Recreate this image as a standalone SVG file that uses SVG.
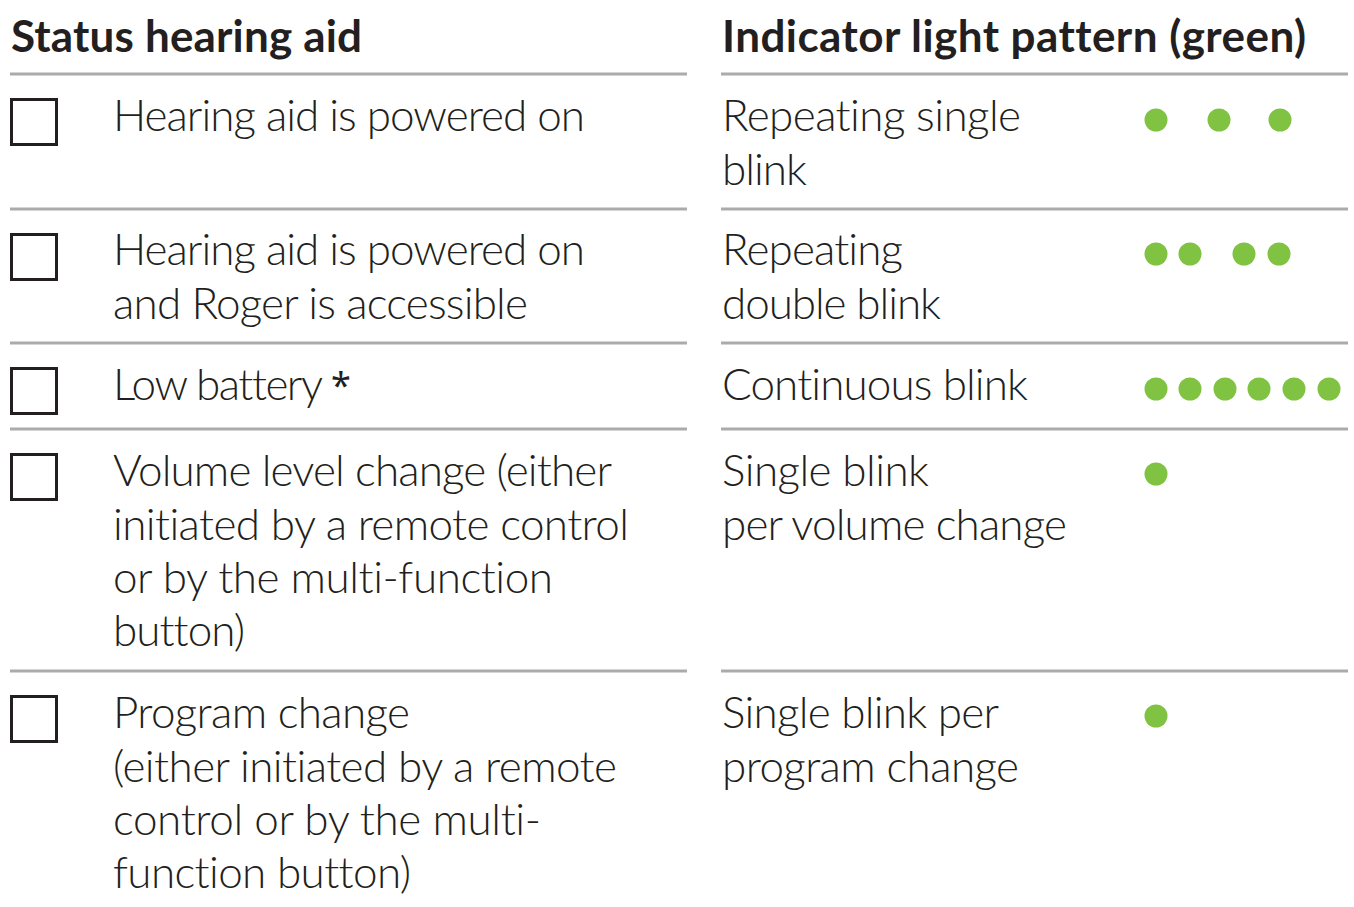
<svg xmlns="http://www.w3.org/2000/svg" width="1354" height="907" viewBox="0 0 1354 907">
<style>
.t{font-family:Lato,"Noto Sans","Liberation Sans",sans-serif;font-size:44px;font-weight:300;fill:#231f20;font-variant-ligatures:none;}
.h{font-weight:bold;}
.ast{font-family:"Noto Sans","Liberation Sans",sans-serif;font-size:36px;fill:#231f20;}
.rule{stroke:#ababab;stroke-width:3;}
.box{fill:none;stroke:#231f20;stroke-width:3;}
.dot{fill:#80c241;}
</style>
<rect width="1354" height="907" fill="#fff"/>
<g id="header">
<text class="t h" x="11" y="52" textLength="351">Status hearing aid</text>
<text class="t h" x="722" y="52" textLength="584">Indicator light pattern (green)</text>
</g>
<g id="rules">
<line class="rule" x1="10" y1="74" x2="687" y2="74"/><line class="rule" x1="721" y1="74" x2="1348" y2="74"/>
<line class="rule" x1="10" y1="209" x2="687" y2="209"/><line class="rule" x1="721" y1="209" x2="1348" y2="209"/>
<line class="rule" x1="10" y1="343" x2="687" y2="343"/><line class="rule" x1="721" y1="343" x2="1348" y2="343"/>
<line class="rule" x1="10" y1="429" x2="687" y2="429"/><line class="rule" x1="721" y1="429" x2="1348" y2="429"/>
<line class="rule" x1="10" y1="671" x2="687" y2="671"/><line class="rule" x1="721" y1="671" x2="1348" y2="671"/>
</g>
<g id="row1">
<rect class="box" x="11.5" y="99.5" width="45" height="45"/>
<text class="t" x="113" y="131" textLength="472">Hearing aid is powered on</text>
<text class="t" x="722" y="131" textLength="299">Repeating single</text>
<text class="t" x="722" y="185" textLength="85">blink</text>
<circle class="dot" cx="1156" cy="120" r="11.5"/><circle class="dot" cx="1219" cy="120" r="11.5"/><circle class="dot" cx="1280" cy="120" r="11.5"/>
</g>
<g id="row2">
<rect class="box" x="11.5" y="234.5" width="45" height="45"/>
<text class="t" x="113" y="265" textLength="472">Hearing aid is powered on</text>
<text class="t" x="113" y="319" textLength="415">and Roger is accessible</text>
<text class="t" x="722" y="265" textLength="181">Repeating</text>
<text class="t" x="722" y="319" textLength="219">double blink</text>
<circle class="dot" cx="1156" cy="254" r="11.5"/><circle class="dot" cx="1190" cy="254" r="11.5"/><circle class="dot" cx="1244" cy="254" r="11.5"/><circle class="dot" cx="1279" cy="254" r="11.5"/>
</g>
<g id="row3">
<rect class="box" x="11.5" y="368.5" width="45" height="45"/>
<text class="t" x="113" y="400" textLength="210">Low battery</text>
<text class="ast" x="331" y="398">*</text>
<text class="t" x="722" y="400" textLength="306">Continuous blink</text>
<circle class="dot" cx="1156" cy="389" r="11.5"/><circle class="dot" cx="1190" cy="389" r="11.5"/><circle class="dot" cx="1225" cy="389" r="11.5"/><circle class="dot" cx="1259" cy="389" r="11.5"/><circle class="dot" cx="1294" cy="389" r="11.5"/><circle class="dot" cx="1329" cy="389" r="11.5"/>
</g>
<g id="row4">
<rect class="box" x="11.5" y="454.5" width="45" height="45"/>
<text class="t" x="113" y="486" textLength="499">Volume level change (either</text>
<text class="t" x="113" y="540" textLength="516">initiated by a remote control</text>
<text class="t" x="113" y="593" textLength="440">or by the multi-function</text>
<text class="t" x="113" y="646" textLength="132">button)</text>
<text class="t" x="722" y="486" textLength="207">Single blink</text>
<text class="t" x="722" y="540" textLength="345">per volume change</text>
<circle class="dot" cx="1156" cy="474" r="11.5"/>
</g>
<g id="row5">
<rect class="box" x="11.5" y="696.5" width="45" height="45"/>
<text class="t" x="113" y="728" textLength="297">Program change</text>
<text class="t" x="113" y="782" textLength="504">(either initiated by a remote</text>
<text class="t" x="113" y="835" textLength="428">control or by the multi-</text>
<text class="t" x="113" y="888" textLength="298">function button)</text>
<text class="t" x="722" y="728" textLength="277">Single blink per</text>
<text class="t" x="722" y="782" textLength="297">program change</text>
<circle class="dot" cx="1156" cy="716" r="11.5"/>
</g>
</svg>
